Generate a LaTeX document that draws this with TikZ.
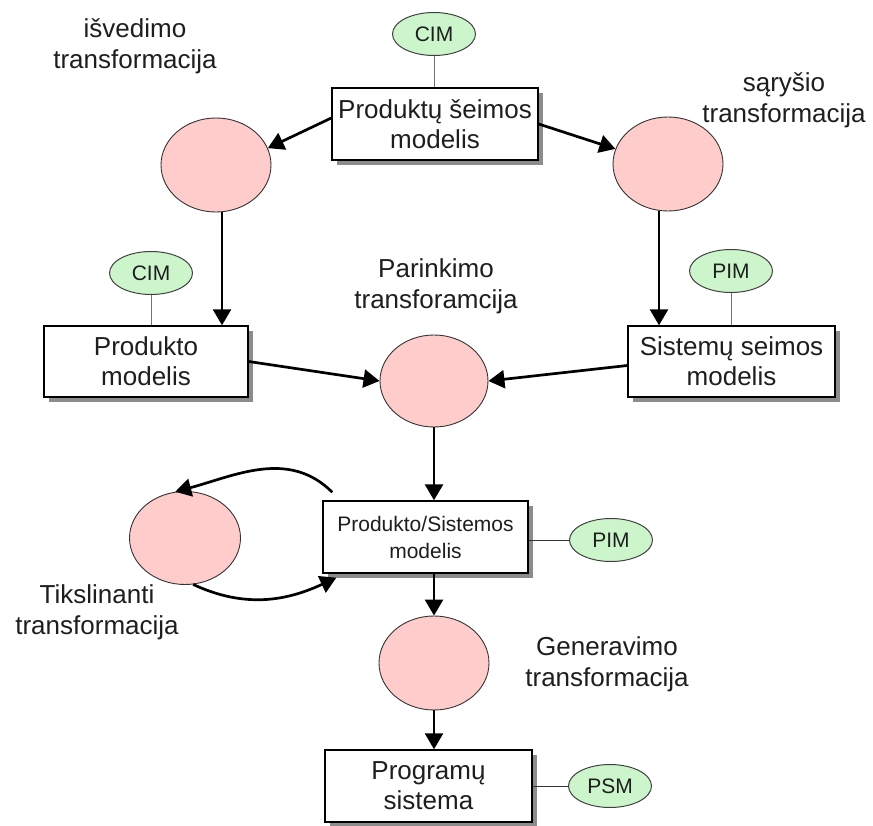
\documentclass[tikz,border=0pt]{standalone}
\usepackage{fontspec}
\setmainfont{Liberation Sans}
\usetikzlibrary{shapes.geometric,arrows.meta,shadows}
\definecolor{pinkfill}{RGB}{255,204,204}
\definecolor{greenfill}{RGB}{204,245,204}
\definecolor{txt}{RGB}{30,30,30}
\begin{document}
\begin{tikzpicture}[x=1pt,y=-1pt,
  every node/.style={inner sep=0pt, text=txt},
  boxnode/.style={rectangle, draw=black, line width=1.4pt, fill=white,
    minimum width=#1, minimum height=72pt, align=center,
    font=\fontsize{26}{30}\selectfont,
    drop shadow={shadow xshift=5pt, shadow yshift=-5pt, fill=black!45, opacity=1}},
  boxnode/.default=206pt,
  transnode/.style={ellipse, draw=black!80, line width=0.9pt, fill=pinkfill,
    minimum width=110pt, minimum height=94pt},
  tagnode/.style={ellipse, draw=black!75, line width=1pt, fill=greenfill,
    minimum width=83pt, minimum height=43pt, font=\fontsize{21}{24}\selectfont},
  lbl/.style={align=center, font=\fontsize{26}{31}\selectfont},
  arr/.style={line width=2.7pt, draw=black, -{Triangle[length=16pt,width=18pt]}},
  lnk/.style={line width=1pt, draw=black!55}
]
\useasboundingbox (0,0) rectangle (873,826);

% labels
\node[lbl] (l1) at (135,46) {išvedimo\\transformacija};
\node[lbl] (l2) at (784,100) {sąryšio\\transformacija};
\node[lbl] (l3) at (436,286) {Parinkimo\\transforamcija};
\node[lbl] (l4) at (97,612) {Tikslinanti\\transformacija};
\node[lbl] (l5) at (607,664) {Generavimo\\transformacija};

% tags
\node[tagnode] (cim1) at (434,34) {CIM};
\node[tagnode] (cim2) at (151,273) {CIM};
\node[tagnode] (pim1) at (731,271) {PIM};
\node[tagnode] (pim2) at (611,540) {PIM};
\node[tagnode] (psm) at (610,786) {PSM};

% boxes
\node[boxnode] (box1) at (435,124) {Produktų šeimos\\modelis};
\node[boxnode=204pt, minimum height=71pt] (box2) at (146,361.5) {Produkto\\modelis};
\node[boxnode=207pt, minimum height=71pt] (box3) at (731.5,361.5) {Sistemų seimos\\modelis};
\node[boxnode=205pt, font=\fontsize{21}{27}\selectfont] (box4) at (425.5,537) {Produkto/Sistemos\\modelis};
\node[boxnode=207pt] (box5) at (428.5,786) {Programų\\sistema};

% transformations
\node[transnode] (e1) at (216,165) {};
\node[transnode] (e2) at (668,164) {};
\node[transnode, minimum width=108pt, minimum height=92pt] (e3) at (434,381) {};
\node[transnode, minimum width=111pt, minimum height=93pt] (e4) at (185,538) {};
\node[transnode] (e5) at (434,663) {};

% tag links
\draw[lnk] (cim1.south) -- (cim1.south |- box1.north);
\draw[lnk] (cim2.south) -- (cim2.south |- box2.north);
\draw[lnk] (pim1.south) -- (pim1.south |- box3.north);
\draw[lnk, draw=black!80] (pim2.west) -- (pim2.west -| box4.east);
\draw[lnk, draw=black!80] (psm.west) -- (psm.west -| box5.east);

% arrows
\draw[arr] ([yshift=6pt]box1.west) -- (e1.18);
\draw[arr] (box1.east) -- (e2.164);
\draw[arr] ([xshift=6pt]e1.south) -- ([xshift=6pt]e1.south |- box2.north);
\draw[arr] ([xshift=-9pt]e2.south) -- ([xshift=-9pt]e2.south |- box3.north);
\draw[arr] (box2.east) -- (e3.west);
\draw[arr] ([yshift=-4pt]box3.west) -- (e3.east);
\draw[arr] (e3.south) -- (e3.south |- box4.north);
\draw[arr] (e5.north |- box4.south) -- (e5.north);
\draw[arr] (e5.south) -- (e5.south |- box5.north);
\draw[arr] ([shift={(10pt,8pt)}]box4.north west) to[out=135, in=15] (e4.102);
\draw[arr] (e4.-80) to[out=-25, in=205] ([shift={(14pt,-4pt)}]box4.south west);
\end{tikzpicture}
\end{document}
